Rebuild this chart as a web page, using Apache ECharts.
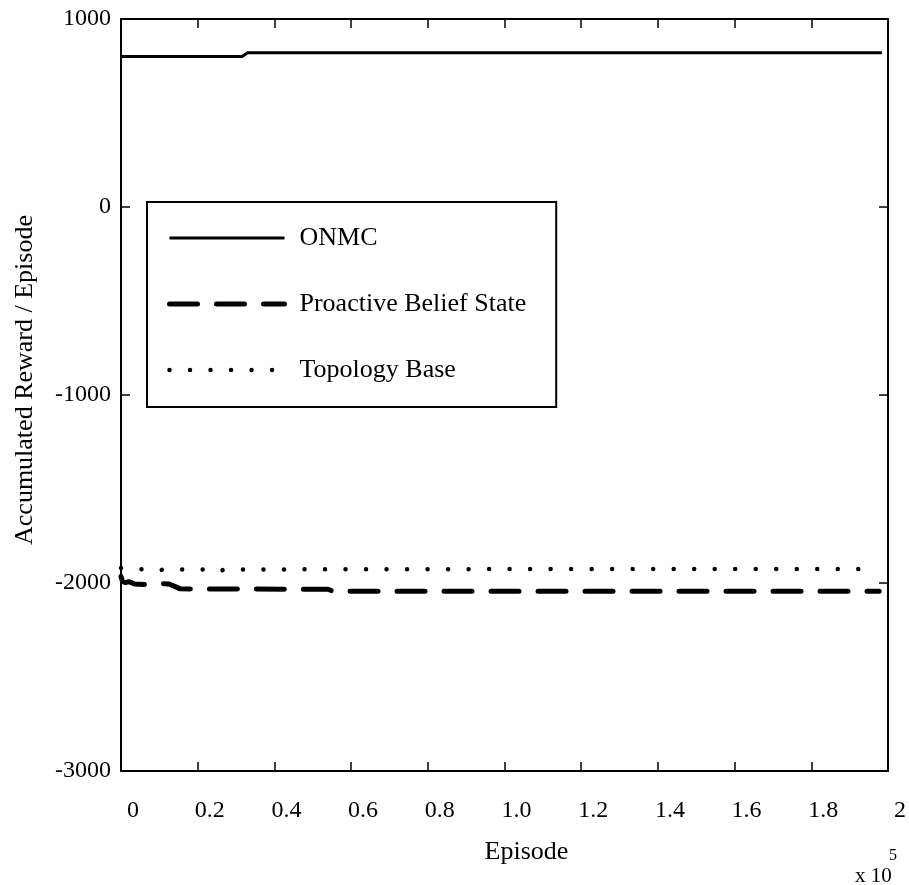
<!DOCTYPE html>
<html>
<head>
<meta charset="utf-8">
<script src="https://cdn.jsdelivr.net/npm/echarts@6/dist/echarts.min.js"></script>
<style>
html,body{margin:0;padding:0;background:#fff;}
#chart{width:909px;height:885px;}
</style>
</head>
<body>
<div id="chart"></div>
<script>
// ---- data (episode in units of 1e5) ----
const xTickLabels = ['0','0.2','0.4','0.6','0.8','1.0','1.2','1.4','1.6','1.8','2'];
const yTickLabels = ['-3000','-2000','-1000','0','1000'];

const onmcEpisodes = [0, 0.316, 0.330, 1.984];
const onmcReward   = [800, 800, 820, 820];

const pbsEpisodes = [0, 0.004, 0.012, 0.02, 0.035, 0.06, 0.105, 0.125, 0.14, 0.153, 0.185, 0.3, 0.45, 0.54, 0.55, 0.56, 0.6, 1.0, 1.5, 1.977];
const pbsReward   = [-1965, -1992, -1998, -1993, -2005, -2008, -2003, -2005, -2018, -2030, -2032, -2032, -2033, -2033, -2042, -2040, -2044, -2044, -2044, -2044];

const topoEpisodes = [0, 0.04, 0.09, 0.10, 0.11, 0.24, 0.255, 0.27, 1.0, 1.951];
const topoReward   = [-1920, -1926, -1928, -1934, -1928, -1928, -1939, -1928, -1926, -1926];

const seriesNames = ['ONMC', 'Proactive Belief State', 'Topology Base'];

const zip = (xs, ys) => xs.map((x, i) => [x, ys[i]]);
const FONT = "'Liberation Serif','Times New Roman',serif";

const styles = [
  {color: '#000', width: 3, type: 'solid', cap: 'butt'},
  {color: '#000', width: 5, type: [28, 19], cap: 'round', join: 'round'},
  {color: '#000', width: 4.5, type: [0.01, 20.5], cap: 'round'}
];

const chart = echarts.init(document.getElementById('chart'), null, {renderer: 'canvas'});

const baseX = {
  type: 'value', min: 0, max: 2, interval: 0.2,
  splitLine: {show: false},
  axisLine: {show: true, onZero: false, lineStyle: {color: '#000', width: 2}},
  axisTick: {show: true, inside: true, length: 9, lineStyle: {color: '#000', width: 1.5}}
};
const baseY = {
  type: 'value', min: -3000, max: 1000, interval: 1000,
  splitLine: {show: false},
  axisLine: {show: true, onZero: false, lineStyle: {color: '#000', width: 2}},
  axisTick: {show: true, inside: true, length: 9, lineStyle: {color: '#000', width: 1.5}}
};

chart.setOption({
  animation: false,
  backgroundColor: '#fff',
  grid: {left: 121, right: 17, top: 19, bottom: 114, containLabel: false},
  xAxis: [
    Object.assign({}, baseX, {
      position: 'bottom',
      name: 'Episode',
      nameLocation: 'middle',
      nameGap: 68,
      nameTextStyle: {fontFamily: FONT, fontSize: 26, color: '#000', lineHeight: 26, padding: [0, 0, 0, 44]},
      axisLabel: {
        show: true, margin: 28, fontFamily: FONT, fontSize: 24, lineHeight: 24, color: '#000',
        padding: [0, 0, 0, 24],
        formatter: (v, i) => xTickLabels[i]
      }
    }),
    Object.assign({}, baseX, {position: 'top', axisLabel: {show: false}})
  ],
  yAxis: [
    Object.assign({}, baseY, {
      position: 'left',
      name: 'Accumulated Reward / Episode',
      nameLocation: 'middle',
      nameGap: 83,
      nameTextStyle: {fontFamily: FONT, fontSize: 26, color: '#000', lineHeight: 26, padding: [0, 0, 0, 30]},
      axisLabel: {
        show: true, margin: 10, fontFamily: FONT, fontSize: 24, color: '#000',
        formatter: (v, i) => yTickLabels[i]
      }
    }),
    Object.assign({}, baseY, {position: 'right', axisLabel: {show: false}})
  ],
  legend: {
    orient: 'vertical',
    left: 147, top: 202,
    padding: [23, 30, 24, 20],
    itemGap: 40,
    itemWidth: 115,
    itemHeight: 20,
    borderColor: '#000', borderWidth: 2, borderRadius: 0,
    backgroundColor: '#fff',
    itemStyle: {opacity: 0, color: 'transparent', borderWidth: 0},
    textStyle: {fontFamily: FONT, fontSize: 26, color: '#000', lineHeight: 26, padding: [0, 0, 0, 10]},
    data: seriesNames.map((n, i) => ({name: n, lineStyle: styles[i], itemStyle: {opacity: 0, color: 'transparent', borderWidth: 0}}))
  },
  graphic: [
    {type: 'text', left: 855, top: 866, style: {text: 'x 10', font: "21px 'Liberation Serif','Times New Roman',serif", fill: '#000'}},
    {type: 'text', left: 889, top: 848, style: {text: '5', font: "16px 'Liberation Serif','Times New Roman',serif", fill: '#000'}}
  ],
  series: [
    {name: seriesNames[0], type: 'line', data: zip(onmcEpisodes, onmcReward), symbol: 'none', color: '#000', lineStyle: styles[0]},
    {name: seriesNames[1], type: 'line', data: zip(pbsEpisodes, pbsReward), symbol: 'none', color: '#000', lineStyle: styles[1]},
    {name: seriesNames[2], type: 'line', data: zip(topoEpisodes, topoReward), symbol: 'none', color: '#000', lineStyle: styles[2]}
  ]
});
</script>
</body>
</html>
